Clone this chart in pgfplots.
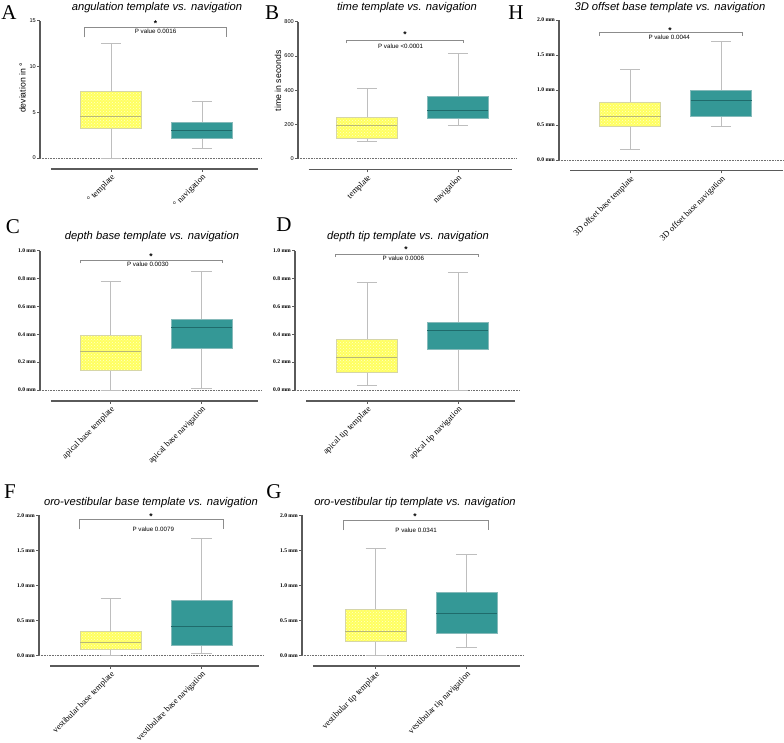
\documentclass[border=0pt]{standalone}
\usepackage{fontspec}
\setmainfont{Liberation Serif}
\setsansfont{Liberation Sans}
\usepackage{pgfplots}
\pgfplotsset{compat=1.18}
\usepgfplotslibrary{statistics}
\usetikzlibrary{patterns}
\definecolor{yfill}{HTML}{FFFF60}
\definecolor{ypat}{HTML}{FFFFC8}
\definecolor{ybord}{HTML}{D6D6A8}
\definecolor{ymed}{HTML}{B8B878}
\definecolor{tfill}{HTML}{349896}
\definecolor{tbord}{HTML}{86BABA}
\definecolor{tmed}{HTML}{1F6B6B}
\definecolor{whisk}{HTML}{BEBEBE}
\definecolor{axcol}{HTML}{5A5A5A}
\definecolor{brk}{HTML}{8C8C8C}
\definecolor{dotcol}{HTML}{707070}

\newcommand{\titlefont}{\fontsize{11.2}{13}\selectfont\sffamily\itshape}
\newcommand{\letterfont}{\fontsize{21}{21}\selectfont\rmfamily}
\newcommand{\tickfont}{\fontsize{5.6}{6.5}\selectfont\rmfamily\bfseries}
\newcommand{\stickfont}{\fontsize{5.6}{6.5}\selectfont\sffamily}
\newcommand{\xlabfont}{\fontsize{8.6}{10}\selectfont\rmfamily}
\newcommand{\pfont}{\fontsize{6.2}{7}\selectfont\sffamily}
\newcommand{\starfont}{\fontsize{8.5}{8.5}\selectfont\sffamily\bfseries}
\newcommand{\ylabfont}{\fontsize{8.7}{10}\selectfont\sffamily}

\pgfplotsset{
  gp/.style={
    scale only axis, anchor=south west, clip=false, disabledatascaling,
    boxplot/draw direction=y,
    axis x line*=bottom, axis y line*=left,
    axis line style={draw=none},
    tick align=outside, major tick length=3pt,
    every tick/.style={axcol, line width=0.8pt},
    xtick={1,2},
    yticklabel style={font=\tickfont, inner sep=1pt},
    xticklabel style={font=\xlabfont, rotate=45, anchor=north east, inner sep=1pt},
  },
  tmpl/.style={draw=whisk, line width=0.7pt,
    boxplot/every box/.style={draw=ybord, fill=yfill, postaction={pattern=crosshatch dots, pattern color=ypat}},
    boxplot/every median/.style={draw=ymed, line width=0.9pt}},
  navi/.style={draw=whisk, line width=0.7pt,
    boxplot/every box/.style={draw=tbord, fill=tfill},
    boxplot/every median/.style={draw=tmed, line width=0.9pt}},
}

% #1 xmin, #2 ymax
\newcommand{\deco}[2]{%
  \draw[dotcol, densely dotted, line width=0.6pt] (axis cs:#1,0) -- ({rel axis cs:1.02,0} |- {axis cs:#1,0});
  \draw[axcol, line width=1.4pt] (axis cs:#1,0) -- (axis cs:#1,#2);
  \draw[axcol, line width=1.4pt] (rel axis cs:0.05,0) -- (rel axis cs:1,0);
}
% #1 xl, #2 xr, #3 ytop, #4 ybot, #5 xstar, #6 ystar, #7 xtext, #8 ytext, #9 text
\newcommand{\bracket}[9]{%
  \draw[brk, line width=0.7pt] (axis cs:#1,#4) -- (axis cs:#1,#3) -- (axis cs:#2,#3) -- (axis cs:#2,#4);
  \node[font=\starfont, inner sep=0pt, yshift=-1.2pt] at (axis cs:#5,#6) {*};
  \node[font=\pfont, inner sep=0pt] at (axis cs:#7,#8) {#9};
}

\begin{document}
\begin{tikzpicture}
\useasboundingbox (0,0) rectangle (784pt,-743pt);

% ---------- Panel letters and titles ----------
\node[font=\letterfont] at (9pt,-13pt) {A};
\node[font=\letterfont] at (272pt,-13pt) {B};
\node[font=\letterfont] at (516pt,-13pt) {H};
\node[font=\letterfont] at (13pt,-227pt) {C};
\node[font=\letterfont] at (284pt,-225pt) {D};
\node[font=\letterfont] at (10pt,-492pt) {F};
\node[font=\letterfont] at (274pt,-492pt) {G};

\node[font=\titlefont] at (157pt,-8pt) {angulation template vs. navigation};
\node[font=\titlefont] at (407pt,-8pt) {time template vs. navigation};
\node[font=\titlefont] at (670pt,-8pt) {3D offset base template vs. navigation};
\node[font=\titlefont] at (152pt,-237pt) {depth base template vs. navigation};
\node[font=\titlefont] at (408pt,-237pt) {depth tip template vs. navigation};
\node[font=\titlefont] at (151pt,-503pt) {oro-vestibular base template vs. navigation};
\node[font=\titlefont] at (415pt,-503pt) {oro-vestibular tip template vs. navigation};

% ---------- Panel A ----------
\begin{axis}[gp, at={(40pt,-169pt)}, width=218pt, height=148.3pt,
  xmin=0.22, xmax=2.616, ymin=-1.2, ymax=15,
  ytick={0,5,10,15}, yticklabels={0,5,10,15},
  yticklabel style={font=\stickfont},
  xticklabels={° template, ° navigation}]
\deco{0.22}{15}
\addplot[tmpl, boxplot prepared={lower whisker=0, lower quartile=3.2, median=4.55, upper quartile=7.32, upper whisker=12.49, draw position=1, box extend=0.67, whisker extend=0.22}] coordinates {};
\addplot[navi, boxplot prepared={lower whisker=1.02, lower quartile=2.19, median=3.06, upper quartile=3.86, upper whisker=6.23, draw position=2, box extend=0.67, whisker extend=0.22}] coordinates {};
\bracket{0.707}{2.272}{14.28}{13.19}{1.49}{14.8}{1.49}{13.84}{P value 0.0016}
\node[font=\ylabfont, rotate=90] at (rel axis cs:-0.08,0.546) {deviation in °};
\end{axis}

% ---------- Panel B ----------
\begin{axis}[gp, at={(298pt,-169.5pt)}, width=214pt, height=147.8pt,
  xmin=0.242, xmax=2.594, ymin=-64, ymax=800,
  ytick={0,200,400,600,800}, yticklabels={0,200,400,600,800},
  yticklabel style={font=\stickfont},
  xticklabels={template, navigation}]
\deco{0.242}{800}
\addplot[tmpl, boxplot prepared={lower whisker=99, lower quartile=118, median=194, upper quartile=238, upper whisker=410, draw position=1, box extend=0.67, whisker extend=0.22}] coordinates {};
\addplot[navi, boxplot prepared={lower whisker=192, lower quartile=236, median=281, upper quartile=364, upper whisker=616, draw position=2, box extend=0.67, whisker extend=0.22}] coordinates {};
\bracket{0.773}{2.063}{690}{673}{1.418}{733}{1.37}{659}{P value <0.0001}
\node[font=\ylabfont, rotate=90] at (rel axis cs:-0.093,0.6) {time in seconds};
\end{axis}

% ---------- Panel H ----------
\begin{axis}[gp, at={(559pt,-170.5pt)}, width=224pt, height=150.5pt,
  xmin=0.22, xmax=2.68, ymin=-0.15, ymax=2,
  ytick={0,0.5,1,1.5,2}, yticklabels={0.0 mm,0.5 mm,1.0 mm,1.5 mm,2.0 mm},
  xticklabels={3D offset base template, 3D offset base navigation}]
\deco{0.22}{2}
\addplot[tmpl, boxplot prepared={lower whisker=0.15, lower quartile=0.486, median=0.62, upper quartile=0.83, upper whisker=1.29, draw position=1, box extend=0.67, whisker extend=0.22}] coordinates {};
\addplot[navi, boxplot prepared={lower whisker=0.48, lower quartile=0.63, median=0.857, upper quartile=1.0, upper whisker=1.70, draw position=2, box extend=0.67, whisker extend=0.22}] coordinates {};
\bracket{0.66}{2.23}{1.82}{1.775}{1.44}{1.87}{1.43}{1.75}{P value 0.0044}
\end{axis}

% ---------- Panel C ----------
\begin{axis}[gp, at={(40pt,-401pt)}, width=218pt, height=150.2pt,
  xmin=0.225, xmax=2.621, ymin=-0.079, ymax=1,
  ytick={0,0.2,0.4,0.6,0.8,1}, yticklabels={0.0 mm,0.2 mm,0.4 mm,0.6 mm,0.8 mm,1.0 mm},
  xticklabels={apical base template, apical base navigation}]
\deco{0.225}{1}
\addplot[tmpl, boxplot prepared={lower whisker=0, lower quartile=0.141, median=0.275, upper quartile=0.39, upper whisker=0.78, draw position=1, box extend=0.67, whisker extend=0.22}] coordinates {};
\addplot[navi, boxplot prepared={lower whisker=0.014, lower quartile=0.30, median=0.45, upper quartile=0.51, upper whisker=0.855, draw position=2, box extend=0.67, whisker extend=0.22}] coordinates {};
\bracket{0.665}{2.225}{0.93}{0.91}{1.445}{0.97}{1.41}{0.905}{P value 0.0030}
\end{axis}

% ---------- Panel D ----------
\begin{axis}[gp, at={(295pt,-401pt)}, width=220pt, height=150.2pt,
  xmin=0.209, xmax=2.627, ymin=-0.079, ymax=1,
  ytick={0,0.2,0.4,0.6,0.8,1}, yticklabels={0.0 mm,0.2 mm,0.4 mm,0.6 mm,0.8 mm,1.0 mm},
  xticklabels={apical tip template, apical tip navigation}]
\deco{0.209}{1}
\addplot[tmpl, boxplot prepared={lower whisker=0.034, lower quartile=0.127, median=0.232, upper quartile=0.364, upper whisker=0.77, draw position=1, box extend=0.67, whisker extend=0.22}] coordinates {};
\addplot[navi, boxplot prepared={lower whisker=0, lower quartile=0.292, median=0.429, upper quartile=0.486, upper whisker=0.843, draw position=2, box extend=0.67, whisker extend=0.22}] coordinates {};
\bracket{0.649}{2.22}{0.977}{0.955}{1.43}{1.02}{1.40}{0.948}{P value 0.0006}
\end{axis}

% ---------- Panel F ----------
\begin{axis}[gp, at={(39pt,-666pt)}, width=220pt, height=150.7pt,
  xmin=0.214, xmax=2.632, ymin=-0.153, ymax=2,
  ytick={0,0.5,1,1.5,2}, yticklabels={0.0 mm,0.5 mm,1.0 mm,1.5 mm,2.0 mm},
  xticklabels={vestibular base template, vestibulare base navigation}]
\deco{0.214}{2}
\addplot[tmpl, boxplot prepared={lower whisker=0, lower quartile=0.086, median=0.186, upper quartile=0.347, upper whisker=0.814, draw position=1, box extend=0.67, whisker extend=0.22}] coordinates {};
\addplot[navi, boxplot prepared={lower whisker=0.024, lower quartile=0.147, median=0.419, upper quartile=0.78, upper whisker=1.671, draw position=2, box extend=0.67, whisker extend=0.22}] coordinates {};
\bracket{0.654}{2.236}{1.94}{1.80}{1.445}{2.0}{1.47}{1.80}{P value 0.0079}
\end{axis}

% ---------- Panel G ----------
\begin{axis}[gp, at={(302pt,-666pt)}, width=218pt, height=150.7pt,
  xmin=0.192, xmax=2.588, ymin=-0.153, ymax=2,
  ytick={0,0.5,1,1.5,2}, yticklabels={0.0 mm,0.5 mm,1.0 mm,1.5 mm,2.0 mm},
  xticklabels={vestibular tip template, vestibular tip navigation}]
\deco{0.192}{2}
\addplot[tmpl, boxplot prepared={lower whisker=0, lower quartile=0.2, median=0.343, upper quartile=0.657, upper whisker=1.529, draw position=1, box extend=0.67, whisker extend=0.22}] coordinates {};
\addplot[navi, boxplot prepared={lower whisker=0.119, lower quartile=0.319, median=0.595, upper quartile=0.895, upper whisker=1.437, draw position=2, box extend=0.67, whisker extend=0.22}] coordinates {};
\bracket{0.643}{2.236}{1.93}{1.79}{1.434}{2.0}{1.446}{1.78}{P value 0.0341}
\end{axis}

\end{tikzpicture}
\end{document}
